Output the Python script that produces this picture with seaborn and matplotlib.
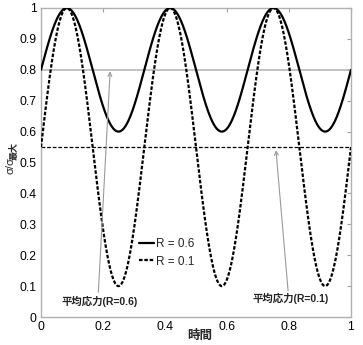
import numpy as np
import pandas as pd
import matplotlib
matplotlib.use("Agg")
import matplotlib.pyplot as plt
from matplotlib.lines import Line2D
import seaborn as sns

# Stress ratio of each loading case and number of cycles over the time span
r_values = [0.6, 0.1]
r_labels = ["R = 0.6", "R = 0.1"]
n_cycles = 3
t_start, t_end = 0.0, 1.0

x_ticks = [0, 0.2, 0.4, 0.6, 0.8, 1]
x_tick_labels = ["0", "0.2", "0.4", "0.6", "0.8", "1"]
y_ticks = [0, 0.1, 0.2, 0.3, 0.4, 0.5, 0.6, 0.7, 0.8, 0.9, 1]
y_tick_labels = ["0", "0.1", "0.2", "0.3", "0.4", "0.5", "0.6", "0.7", "0.8", "0.9", "1"]

# Mean-stress annotations: label, arrow tail (text side), arrow head
note_labels = ["平均応力(R=0.6)", "平均応力(R=0.1)"]
note_text_xy = [(0.19, 0.05), (0.805, 0.06)]
note_tail_xy = [(0.185, 0.08), (0.797, 0.085)]
note_head_xy = [(0.223, 0.795), (0.758, 0.54)]

# Normalised stress history: sigma/sigma_max oscillates between R and 1
t = np.linspace(t_start, t_end, 1201)
frames = []
for r, lab in zip(r_values, r_labels):
    mean = (1 + r) / 2
    amp = (1 - r) / 2
    frames.append(pd.DataFrame({
        "time": t,
        "stress": mean + amp * np.sin(2 * np.pi * n_cycles * t),
        "case": lab,
    }))
df = pd.concat(frames, ignore_index=True)

sns.set_style("white")
plt.rcParams["font.family"] = ["Liberation Sans", "Noto Sans CJK JP", "DejaVu Sans"]

fig = plt.figure(figsize=(3.63, 3.45), dpi=100)
ax = fig.add_axes([41 / 363, 28 / 345, 310 / 363, 309 / 345])

# Mean stress lines
ax.axhline((1 + r_values[0]) / 2, color="#b8b8b8", lw=1.2, zorder=1)
ax.axhline((1 + r_values[1]) / 2, color="black", lw=0.9, ls=(0, (3, 1.5)), zorder=1)

sns.lineplot(
    data=df, x="time", y="stress", style="case",
    style_order=r_labels,
    dashes={r_labels[0]: "", r_labels[1]: (1.6, 0.8)},
    color="black", linewidth=1.6, legend=False, ax=ax, zorder=3,
)

for lab, txy, tail, head in zip(note_labels, note_text_xy, note_tail_xy, note_head_xy):
    ax.annotate("", xy=head, xytext=tail,
                arrowprops=dict(arrowstyle="->", color="#9a9a9a", lw=0.8,
                                mutation_scale=7, shrinkA=0, shrinkB=0))
    ax.text(txy[0], txy[1], lab, ha="center", va="center",
            fontsize=7.5, fontweight="bold", color="#222222")

handles = [Line2D([], [], color="black", lw=1.6),
           Line2D([], [], color="black", lw=1.6, ls=(0, (1.6, 0.8)))]
ax.legend(handles, r_labels, loc="upper left", bbox_to_anchor=(0.3, 0.27),
          frameon=False, fontsize=8.5, handlelength=1.3, handletextpad=0.2,
          labelspacing=0.45, borderaxespad=0)

ax.set_xlim(0, 1)
ax.set_ylim(0, 1)
ax.set_xticks(x_ticks)
ax.set_xticklabels(x_tick_labels)
ax.set_yticks(y_ticks)
ax.set_yticklabels(y_tick_labels)
ax.tick_params(direction="in", length=3, width=0.8, color="#a0a0a0",
               labelsize=8.8, labelcolor="black", top=True, right=True,
               pad=3)
for s in ax.spines.values():
    s.set_color("#b0b0b0")
    s.set_linewidth(1.0)

ax.set_xlabel("")
ax.set_ylabel("")
fig.text(200 / 363, 1 - 336 / 345, "時間", ha="center", va="center",
         fontsize=9, fontweight="bold")

# y-axis label: sigma / sigma with a bold subscript
fig.text(10 / 363, 1 - 166 / 345, "σ/σ", rotation=90, ha="center", va="center",
         fontsize=8)
fig.text(14.5 / 363, 1 - 151 / 345, "最大", rotation=90, ha="center", va="center",
         fontsize=6.5, fontweight="bold")

fig.savefig("out.png", dpi=100)
